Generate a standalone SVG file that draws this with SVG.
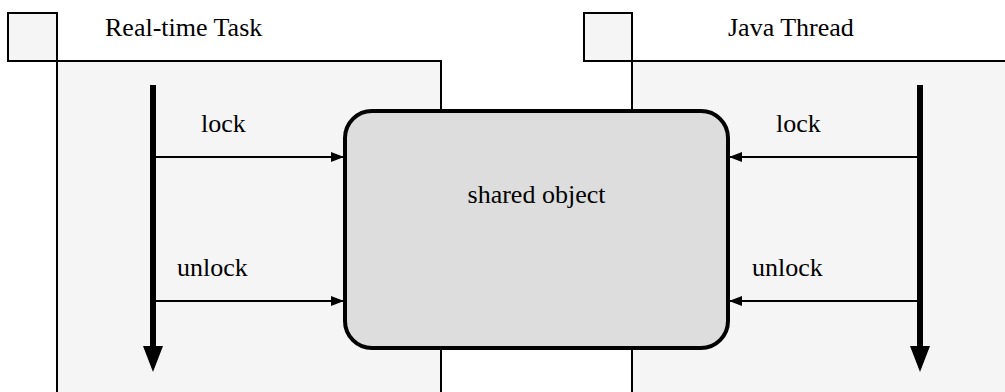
<svg xmlns="http://www.w3.org/2000/svg" width="1005" height="392" viewBox="0 0 1005 392">
  <style>
    .frame { fill: #f5f5f5; stroke: #000; stroke-width: 2; }
    .obj { fill: #dddddd; stroke: #000; stroke-width: 4; }
    .life { stroke: #000; stroke-width: 6; fill: none; }
    .msg { stroke: #000; stroke-width: 2.2; fill: none; }
    .lbl { font-family: "Times New Roman", "Liberation Serif", Tinos, serif; font-size: 26px; fill: #000; }
  </style>
  <defs>
    <marker id="msgHead" markerUnits="userSpaceOnUse" markerWidth="14" markerHeight="12" refX="13" refY="5" orient="auto">
      <path d="M0,0 L13,5 L0,10 Z" fill="#000"/>
    </marker>
  </defs>

  <rect width="1005" height="392" fill="#ffffff"/>

  <!-- Real-time Task frame -->
  <g id="task-realtime">
    <rect class="frame" x="57" y="61" width="384" height="345"/>
    <rect class="frame" x="8" y="13" width="49" height="48"/>
    <text class="lbl" x="105" y="36">Real-time Task</text>
  </g>

  <!-- Java Thread frame -->
  <g id="task-java">
    <rect class="frame" x="632" y="61" width="390" height="345"/>
    <rect class="frame" x="584" y="13" width="48" height="48"/>
    <text class="lbl" x="728" y="36">Java Thread</text>
  </g>

  <!-- Shared object -->
  <g id="shared-object">
    <rect class="obj" x="345" y="111" width="383" height="237" rx="27" ry="27"/>
    <text class="lbl" x="536.5" y="203" text-anchor="middle">shared object</text>
  </g>

  <!-- Lifelines and messages -->
  <g id="connectors">
    <line class="life" x1="153" y1="85" x2="153" y2="347"/>
    <polygon points="143,346 163,346 153,372" fill="#000"/>
    <line class="life" x1="920" y1="85" x2="920" y2="347"/>
    <polygon points="910,346 930,346 920,372" fill="#000"/>

    <line class="msg" x1="153" y1="157" x2="344" y2="157" marker-end="url(#msgHead)"/>
    <line class="msg" x1="153" y1="301" x2="344" y2="301" marker-end="url(#msgHead)"/>
    <line class="msg" x1="920" y1="157" x2="729" y2="157" marker-end="url(#msgHead)"/>
    <line class="msg" x1="920" y1="301" x2="729" y2="301" marker-end="url(#msgHead)"/>
  </g>

  <!-- Message labels -->
  <g id="labels">
    <text class="lbl" x="201" y="132">lock</text>
    <text class="lbl" x="177" y="276">unlock</text>
    <text class="lbl" x="776" y="132">lock</text>
    <text class="lbl" x="752" y="276">unlock</text>
  </g>
</svg>
